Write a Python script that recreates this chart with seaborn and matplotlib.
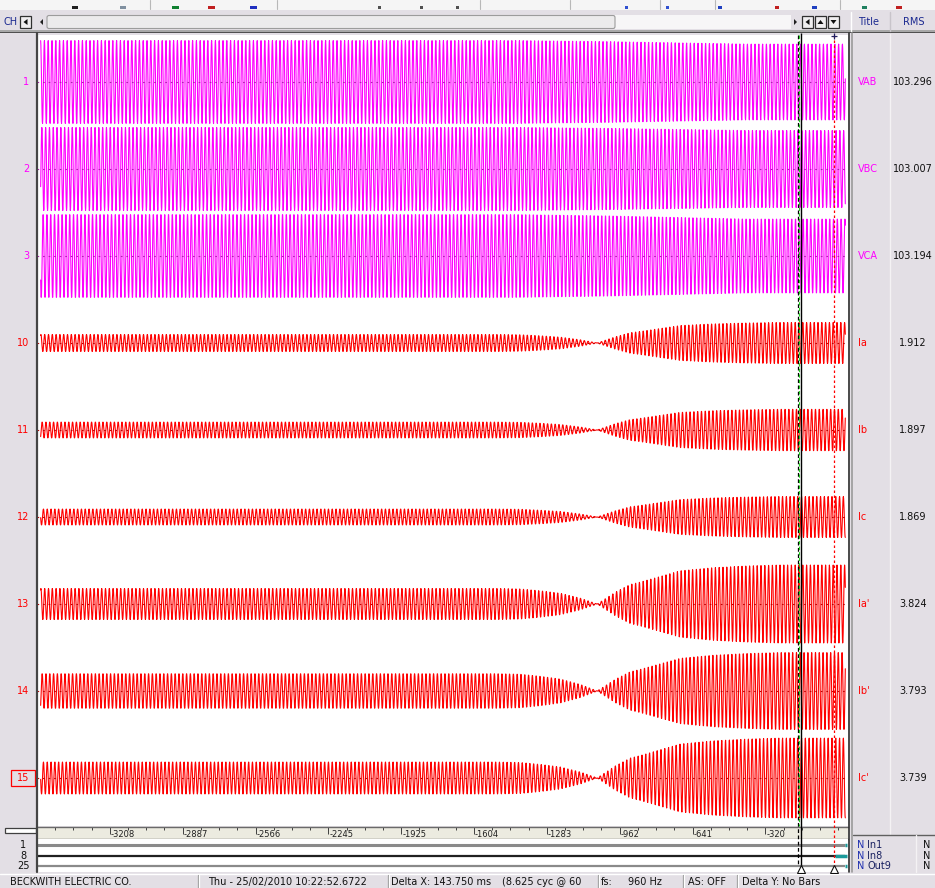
import numpy as np
import pandas as pd
import matplotlib
matplotlib.use("Agg")
import matplotlib.pyplot as plt
import matplotlib.transforms as mtransforms
from matplotlib.patches import Rectangle, Polygon, FancyBboxPatch
import seaborn as sns

sns.set_theme(style="white")
plt.rcParams['font.family'] = ['DejaVu Sans']

# ---------------------------------------------------------------- data
# analog channels
ch_numbers = [1, 2, 3, 10, 11, 12, 13, 14, 15]
ch_titles = ["VAB", "VBC", "VCA", "Ia", "Ib", "Ic", "Ia'", "Ib'", "Ic'"]
ch_rms = ["103.296", "103.007", "103.194", "1.912", "1.897", "1.869",
          "3.824", "3.793", "3.739"]
ch_kind = ["V", "V", "V", "I", "I", "I", "I", "I", "I"]
ch_phase_deg = [30, -90, 150, 0, -120, 120, 0, -120, 120]
# peak trace height before and after the disturbance (display units)
amp_before = [41.5, 41.5, 42.0, 8.5, 8.0, 8.0, 15.5, 17.5, 16.0]
amp_after = [38.0, 38.5, 37.5, 20.5, 21.0, 20.5, 39.0, 39.0, 40.0]

# voltage envelope: share of the "after" height along the record (ms)
v_env_ms = [-3510, -1400, -1000, -700, -400, 45]
v_env_after = [0.0, 0.0, 0.3, 0.65, 1.0, 1.0]

# current envelope: old component fades out, reversed one builds up (ms)
i_env_ms = [-3510, -1500, -1394, -1306, -1218, -1131, -1056, -977, -911,
            -868, -692, -548, -399, -254, 45]
i_env_before = [1.0, 1.0, 0.97, 0.85, 0.69, 0.38, 0.0, 0.0, 0.0,
                0.0, 0.0, 0.0, 0.0, 0.0, 0.0]
i_env_after = [0.0, 0.0, 0.0, 0.0, 0.0, 0.0, 0.0, 0.30, 0.50,
               0.56, 0.85, 0.93, 0.975, 1.0, 1.0]

# record settings
fs_hz = 960
f_sys_hz = 60
t_first_ms, t_last_ms = -3497.0, 33.0

# time ruler (ms)
ruler_ticks = [-3208, -2887, -2566, -2245, -1925, -1604, -1283, -962, -641, -320]

# cursors (ms); their distance is the Delta X of the status bar
cursor_a_ms = -163.0
cursor_b_ms = -19.25

# digital channels
dig_numbers = ["1", "8", "25"]
dig_names = ["In1", "In8", "Out9"]
dig_state = ["N", "N", "N"]

# status bar
status_items = ["BECKWITH ELECTRIC CO.", "Thu - 25/02/2010 10:22:52.6722",
                "Delta X: 143.750 ms", "(8.625 cyc @ 60", "fs:", "960 Hz",
                "AS: OFF", "Delta Y:", "No Bars"]

# ---------------------------------------------------------------- layout
W, H = 935, 888
PANEL = "#e3dfe5"
NAVY = "#1a2890"
MAG = "#ff00ff"
RED = "#ff0000"
X_LIM = (-3513.0, 44.0)
LANE0, LANE_STEP = 82, 87


def rect(x0, y0, x1, y1):
    return [x0 / W, 1 - y1 / H, (x1 - x0) / W, (y1 - y0) / H]


fig = plt.figure(figsize=(W / 100, H / 100), dpi=100)
fig.patch.set_facecolor(PANEL)

# chrome layer in pixel units
bg = fig.add_axes([0, 0, 1, 1])
bg.set_xlim(0, W)
bg.set_ylim(H, 0)
bg.axis("off")
bg.set_zorder(0)

# toolbar strip with clipped icons
bg.add_patch(Rectangle((0, 0), W, 10, color="#f5f5f5", lw=0))
for x, c, w in [(72, "#202020", 6), (120, "#8090a0", 6), (172, "#108030", 7),
                (208, "#c02020", 7), (250, "#2030c0", 7), (378, "#505050", 3),
                (420, "#505050", 3), (456, "#505050", 3), (625, "#3050d0", 3),
                (666, "#3050d0", 3), (718, "#2040c0", 4), (775, "#c02020", 4),
                (812, "#2040c0", 5), (862, "#208060", 5), (896, "#c02020", 6)]:
    bg.add_patch(Rectangle((x, 6), w, 3, color=c, lw=0))
for x in [150, 277, 480, 570, 660, 715, 840]:
    bg.plot([x, x], [0, 9], color="#b8b8b8", lw=0.8)

# header row
bg.text(4, 22, "CH", color=NAVY, fontsize=7, va="center")


def button(x0, glyph):
    bg.add_patch(Rectangle((x0, 16), 11, 12, fc="#f0eef0", ec="#303030", lw=0.9))
    cx, cy = x0 + 5.5, 22
    pts = {"l": [(cx + 2, cy - 3), (cx + 2, cy + 3), (cx - 2, cy)],
           "u": [(cx - 3, cy + 2), (cx + 3, cy + 2), (cx, cy - 2)],
           "d": [(cx - 3, cy - 2), (cx + 3, cy - 2), (cx, cy + 2)]}[glyph]
    bg.add_patch(Polygon(pts, closed=True, color="#101010", lw=0))


button(20, "l")
bg.add_patch(Polygon([(43, 19), (43, 25), (40, 22)], closed=True, color="#202020", lw=0))
bg.add_patch(Rectangle((615, 15), 176, 14, fc="#f7f6f7", ec="none"))
bg.add_patch(FancyBboxPatch((47, 15.5), 568, 13, boxstyle="round,pad=0,rounding_size=2",
                            fc="#ecebec", ec="#9c9c9c", lw=0.8))
bg.add_patch(Polygon([(794, 19), (794, 25), (797, 22)], closed=True, color="#202020", lw=0))
button(802, "l")
button(815, "u")
button(828, "d")
bg.plot([850.5, 850.5], [12, 31], color="#ffffff", lw=1)
bg.plot([890, 890], [12, 31], color="#c8c4ca", lw=1)
bg.text(858, 22, "Title", color=NAVY, fontsize=7, va="center")
bg.text(903, 22, "RMS", color=NAVY, fontsize=7, va="center")
bg.add_patch(Rectangle((0, 30.5), W, 1.5, color="#a8a8a8", lw=0))
bg.add_patch(Rectangle((0, 32), W, 1.5, color="#505050", lw=0))

# right panel separators
bg.plot([890, 890], [34, 834], color="#f4f2f4", lw=1)
bg.plot([853, W], [834.5, 834.5], color="#606060", lw=1)
bg.plot([916, 916], [835, 872], color="#f4f2f4", lw=1)

# splitter handle
bg.add_patch(Rectangle((5, 828), 31, 5, fc="#ffffff", ec="#404040", lw=0.9))

# ---------------------------------------------------------------- traces
ax = fig.add_axes(rect(37, 35, 848, 826))
ax.set_zorder(2)
ax.set_facecolor("white")

t = np.arange(t_first_ms, t_last_ms, 1000.0 / fs_hz)
frames = []
for i, title in enumerate(ch_titles):
    center = LANE0 + LANE_STEP * i
    phase = np.deg2rad(ch_phase_deg[i])
    carrier = np.sin(2 * np.pi * f_sys_hz * t / 1000.0 + phase)
    if ch_kind[i] == "V":
        share = np.interp(t, v_env_ms, v_env_after)
        env = amp_before[i] * (1 - share) + amp_after[i] * share
    else:
        env = (amp_before[i] * np.interp(t, i_env_ms, i_env_before)
               - amp_after[i] * np.interp(t, i_env_ms, i_env_after))
    frames.append(pd.DataFrame({"t": t, "y": center - env * carrier, "title": title}))
df = pd.concat(frames, ignore_index=True)

palette = {tt: (MAG if k == "V" else RED) for tt, k in zip(ch_titles, ch_kind)}
sns.lineplot(data=df, x="t", y="y", hue="title", palette=palette,
             estimator=None, sort=False, errorbar=None, legend=False,
             linewidth=0.8, ax=ax)

for i, k in enumerate(ch_kind):
    center = LANE0 + LANE_STEP * i
    ax.axhline(center, color=("#b020b0" if k == "V" else "#c00000"),
               lw=0.8, ls=(0, (1.5, 3.5)), zorder=3)

ax.set_xlim(*X_LIM)
ax.set_ylim(826, 35)
ax.set_xticks([])
ax.set_yticks([])
ax.set_xlabel("")
ax.set_ylabel("")
for s in ax.spines.values():
    s.set_visible(False)

# channel numbers and titles
for i, num in enumerate(ch_numbers):
    yc = LANE0 + LANE_STEP * i
    col = MAG if ch_kind[i] == "V" else RED
    bg.text(29, yc, str(num), color=col, fontsize=7, ha="right", va="center")
    bg.text(858, yc, ch_titles[i], color=col, fontsize=7, ha="left", va="center")
    bg.text(913, yc, ch_rms[i], color="#101010", fontsize=7, ha="center", va="center")
yc15 = LANE0 + LANE_STEP * 8
bg.add_patch(Rectangle((11, yc15 - 8), 24, 16, fc="none", ec=RED, lw=0.9))

# ---------------------------------------------------------------- ruler
rax = fig.add_axes(rect(37, 827, 848, 839))
rax.set_zorder(2)
rax.set_facecolor("#ecebe0")
rax.set_xlim(*X_LIM)
rax.set_ylim(0, 1)
rax.set_yticks([])
rax.xaxis.tick_top()
rax.set_xticks(ruler_ticks)
rax.set_xticklabels([])
step = (ruler_ticks[-1] - ruler_ticks[0]) / (len(ruler_ticks) - 1) / 4
minor = np.arange(ruler_ticks[0] - 4 * step, X_LIM[1], step)
rax.set_xticks(minor, minor=True)
rax.tick_params(axis="x", which="major", direction="in", length=5, width=0.7,
                color="#404040", top=True, bottom=False, labeltop=False, labelbottom=False)
rax.tick_params(axis="x", which="minor", direction="in", length=2.5, width=0.7,
                color="#404040", top=True, bottom=False)
for side in ["left", "right"]:
    rax.spines[side].set_visible(False)
for side in ["top", "bottom"]:
    rax.spines[side].set_color("#6a6a6a")
    rax.spines[side].set_linewidth(1.0)
trans = mtransforms.blended_transform_factory(rax.transData, rax.transAxes)
for v in ruler_ticks:
    rax.text(v + 5, 0.40, str(v), transform=trans, fontsize=6.0, color="#202020",
             ha="left", va="center")

# ---------------------------------------------------------------- digital rows
dax = fig.add_axes(rect(37, 839, 848, 872))
dax.set_zorder(2)
dax.set_facecolor("white")
dax.set_xlim(*X_LIM)
dax.set_ylim(872, 839)
dax.axis("off")
dax.add_patch(Rectangle((0, 0), 1, 1, transform=dax.transAxes, color="white", zorder=0))
dig_y = [845, 855.5, 866]
dig_col = ["#8a8a8a", "#202020", "#8a8a8a"]
dig_lw = [2.2, 1.6, 1.6]
for yv, c, lw in zip(dig_y, dig_col, dig_lw):
    dax.plot([X_LIM[0], t_last_ms], [yv, yv], color=c, lw=lw, solid_capstyle="butt")
dax.plot([t_last_ms, t_last_ms + 8], [dig_y[0]] * 2, color="#1a9a9a", lw=2.5,
         solid_capstyle="butt")
dax.plot([t_last_ms, t_last_ms + 8], [dig_y[2]] * 2, color="#1a9a9a", lw=2.5,
         solid_capstyle="butt")
dax.plot([cursor_b_ms + 5, t_last_ms + 8], [dig_y[1]] * 2, color="#1a9a9a", lw=2.5,
         solid_capstyle="butt")

for yv, num, name, st in zip(dig_y, dig_numbers, dig_names, dig_state):
    bg.text(23, yv, num, color="#101010", fontsize=7, ha="center", va="center")
    bg.text(857, yv, st, color="#2030b0", fontsize=7, ha="left", va="center")
    bg.text(867, yv, name, color="#182060", fontsize=7, ha="left", va="center")
    bg.text(923, yv, st, color="#101010", fontsize=7, ha="left", va="center")

# ---------------------------------------------------------------- borders & cursors
ov = fig.add_axes(rect(0, 0, W, H))
ov.set_zorder(5)
ov.patch.set_visible(False)
ov.set_xlim(0, W)
ov.set_ylim(H, 0)
ov.axis("off")
ov.plot([36.5, 36.5], [33, 872], color="#454545", lw=1.6)
ov.plot([849.3, 849.3], [33, 872], color="#303030", lw=1.2)
ov.plot([851.8, 851.8], [33, 872], color="#9a9a9a", lw=1.2)

cax = fig.add_axes(rect(37, 33, 848, 873))
cax.set_zorder(6)
cax.patch.set_visible(False)
cax.set_xlim(*X_LIM)
cax.set_ylim(873, 33)
cax.axis("off")
cax.vlines(cursor_a_ms - 14, 35, 866, color="#000000", lw=0.9, ls=(0, (3, 2)))
cax.vlines(cursor_a_ms - 7, 35, 826, color="#20d020", lw=0.8, ls=(0, (3, 2)))
cax.vlines(cursor_a_ms, 33, 866, color="#000000", lw=1.0)
cax.vlines(cursor_b_ms, 35, 866, color=RED, lw=0.9, ls=(0, (2, 2)))
cax.plot([cursor_a_ms, cursor_b_ms], [869, 869], ls="none", marker="^", ms=5.5,
         mfc="white", mec="#101010", mew=0.8)
cax.plot([cursor_b_ms], [36], ls="none", marker="+", ms=5, mec="#202060", mew=0.9)

# ---------------------------------------------------------------- status bar
bg.plot([0, W], [873.5, 873.5], color="#ffffff", lw=1)
status_x = [10, 208, 391, 502, 601, 628, 688, 742, 782]
for x, s in zip(status_x, status_items):
    bg.text(x, 882, s, color="#101010", fontsize=7, ha="left", va="center")
for x in [198, 388, 598, 683, 737]:
    bg.plot([x, x], [875, 888], color="#9a9a9a", lw=0.9)
    bg.plot([x + 1, x + 1], [875, 888], color="#ffffff", lw=0.9)

fig.savefig("out.png", dpi=100, facecolor=fig.get_facecolor())
